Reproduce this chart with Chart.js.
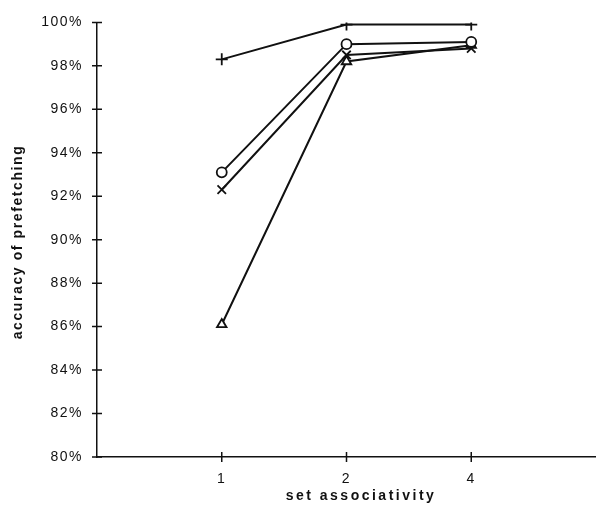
<!doctype html>
<html lang="en">
  <head>
    <meta charset="utf-8">
    <title>Accuracy of prefetching</title>
    <style>
      * { margin: 0; padding: 0; }
      html, body { overflow: hidden; background: #fff; }
      .chartBox { width: 596px; height: 510px; }
    </style>
  </head>
  <body>
    <div class="chartBox">
      <canvas id="myChart"></canvas>
    </div>
    <script src="https://cdn.jsdelivr.net/npm/chart.js/dist/chart.umd.min.js"></script>
    <script>
      // data (empty slots at both ends give the margins of the original axis)
      const categories = ['', '1', '2', '4', ''];
      const plusSeries = [null, 98.3, 99.9, 99.9, null];
      const circleSeries = [null, 93.1, 99.0, 99.1, null];
      const crossSeries = [null, 92.3, 98.5, 98.8, null];
      const triangleSeries = [null, 86.1, 98.2, 98.95, null];

      const ink = '#111';
      const family = "'Liberation Sans', Arial, sans-serif";

      function series(values, style, radius) {
        return {
          data: values,
          borderColor: ink,
          borderWidth: 2,
          pointStyle: style,
          pointRadius: radius,
          pointBorderColor: ink,
          pointBackgroundColor: '#fff',
          pointBorderWidth: 1.8,
          spanGaps: false
        };
      }

      // the scanned figure has widely spaced lettering; titles drawn here
      const spacedText = {
        id: 'spacedText',
        beforeUpdate(chart) { chart.ctx.letterSpacing = '1.5px'; },
        beforeDraw(chart) { chart.ctx.letterSpacing = '1.5px'; },
        afterDraw(chart) {
          const ctx = chart.ctx;
          ctx.save();
          ctx.fillStyle = ink;
          ctx.font = 'bold 14px ' + family;
          ctx.textAlign = 'center';
          ctx.textBaseline = 'middle';
          ctx.letterSpacing = '2.5px';
          ctx.fillText('set associativity', 361, 496);
          ctx.letterSpacing = '1.6px';
          ctx.translate(18, 242);
          ctx.rotate(-Math.PI / 2);
          ctx.fillText('accuracy of prefetching', 0, 0);
          ctx.restore();
        }
      };

      // tick marks that cross the axis line, like the printed figure
      const crossTicks = {
        id: 'crossTicks',
        afterDraw(chart) {
          const { ctx, scales: { x, y } } = chart;
          ctx.save();
          ctx.strokeStyle = ink;
          ctx.lineWidth = 1.5;
          ctx.beginPath();
          const ax = x.getPixelForValue(0);
          y.ticks.forEach((t, i) => {
            const py = y.getPixelForTick(i);
            ctx.moveTo(ax - 5, py);
            ctx.lineTo(ax + 5, py);
          });
          const ay = y.getPixelForValue(80);
          for (let i = 1; i <= 3; i++) {
            const px = x.getPixelForTick(i);
            ctx.moveTo(px, ay - 5);
            ctx.lineTo(px, ay + 5);
          }
          ctx.stroke();
          ctx.restore();
        }
      };

      const config = {
        type: 'line',
        data: {
          labels: categories,
          datasets: [
            series(plusSeries, 'cross', 6),
            series(circleSeries, 'circle', 5),
            series(crossSeries, 'crossRot', 6),
            series(triangleSeries, 'triangle', 5.5)
          ]
        },
        options: {
          responsive: true,
          maintainAspectRatio: false,
          animation: false,
          layout: { autoPadding: false, padding: { top: 22, left: 0, right: 0, bottom: 0 } },
          plugins: { legend: { display: false }, tooltip: { enabled: false } },
          scales: {
            x: {
              type: 'category',
              offset: false,
              grid: { display: false, drawTicks: false },
              border: { display: true, color: ink, width: 1.5 },
              ticks: { color: ink, font: { family: family, size: 14 }, padding: 14, autoSkip: false, maxRotation: 0 },
              afterFit(scale) {
                scale.height = 53;
                scale.paddingLeft = 0;
                scale.paddingRight = 0;
              }
            },
            y: {
              min: 80,
              max: 100,
              grid: { display: false, drawTicks: false },
              border: { display: true, color: ink, width: 1.5 },
              ticks: { stepSize: 2, color: ink, font: { family: family, size: 14 }, padding: 14, callback: v => v + '%' },
              afterFit(scale) { scale.width = 97; }
            }
          }
        },
        plugins: [spacedText, crossTicks]
      };

      const myChart = new Chart(document.getElementById('myChart'), config);
    </script>
  </body>
</html>
